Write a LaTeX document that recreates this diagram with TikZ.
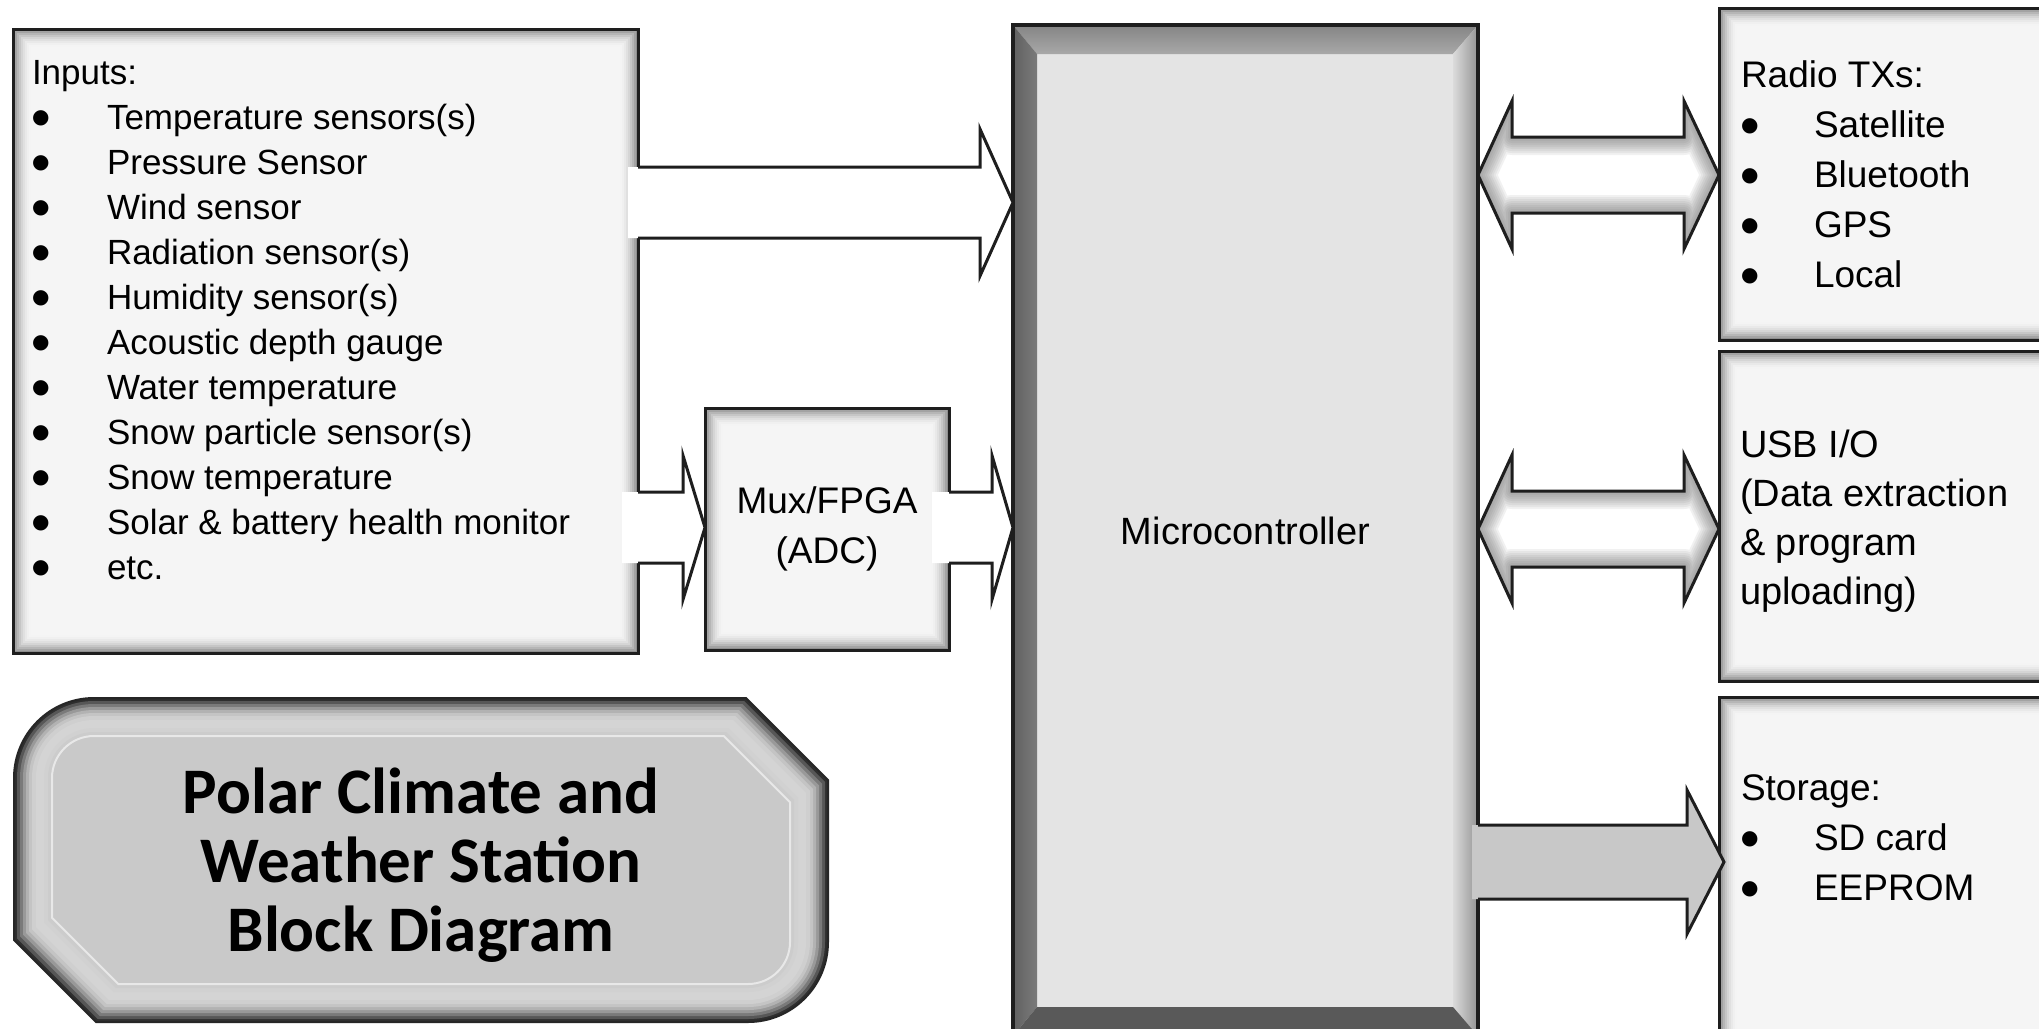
\documentclass[tikz,border=0pt]{standalone}
\usepackage{fontspec}
\setmainfont{Liberation Sans}
\newfontfamily\titlefont{Carlito}
\newfontfamily\symfont{DejaVu Sans}
\usetikzlibrary{calc}
\definecolor{boxfill}{HTML}{F5F5F5}
\definecolor{microface}{HTML}{E4E4E4}
\definecolor{edge}{HTML}{1E1E1E}
\definecolor{storefill}{HTML}{C8C8C8}
\newcommand\bul{\raisebox{5.5pt}{\symfont\fontsize{20}{20}\selectfont ●}}
% arrow outlines (use \x1,\y1,\x2 from a let operation)
\newcommand\SglArr[3]{(\x1,\y1+#3) -- (\x2-#1,\y1+#3) -- (\x2-#1,\y1+#2) -- (\x2,\y1) -- (\x2-#1,\y1-#2) -- (\x2-#1,\y1-#3) -- (\x1,\y1-#3)}
\newcommand\DblArr{(\x1,\y1) -- (\x1+34,\y1+74) -- (\x1+34,\y1+38) -- (\x2-35,\y1+38) -- (\x2-35,\y1+74) -- (\x2,\y1) -- (\x2-35,\y1-74) -- (\x2-35,\y1-38) -- (\x1+34,\y1-38) -- (\x1+34,\y1-74) -- cycle}
\newcommand\GlowDbl[2]{%
  \begin{scope}
    \clip let \p1=(#1), \p2=(#2) in \DblArr;
    \fill[white] let \p1=(#1), \p2=(#2) in \DblArr;
    \foreach \w in {36,32,...,4}
      \draw[line width=\w pt, black!60, opacity=0.085, line join=round] let \p1=(#1), \p2=(#2) in \DblArr;
  \end{scope}
  \draw[arrline] let \p1=(#1), \p2=(#2) in \DblArr;}
% title shape
\newcommand\TitleShape[1]{%
  \pgfmathsetmacro\tL{14+#1}\pgfmathsetmacro\tT{698+#1}%
  \pgfmathsetmacro\tR{828-#1}\pgfmathsetmacro\tB{1022-#1}%
  \pgfmathsetmacro\tr{80-#1}\pgfmathsetmacro\tc{82-0.414*#1}}
\newcommand\TitlePath{(\tL,\tB-\tc) -- (\tL,\tT+\tr) arc[start angle=180,end angle=270,radius=\tr] -- (\tR-\tc,\tT) -- (\tR,\tT+\tc) -- (\tR,\tB-\tr) arc[start angle=0,end angle=90,radius=\tr] -- (\tL+\tc,\tB) -- cycle}
\tikzset{
  inshadow/.style={path picture={
    \foreach \k [evaluate=\k as \op using {0.42*(1-\k/9)^2}] in {0,1,...,8}{
      \draw[line width=2pt, black, opacity=\op]
        ([shift={(\k*2+1,\k*2+1)}]path picture bounding box.north west)
        rectangle ([shift={(-\k*2-1,-\k*2-1)}]path picture bounding box.south east);
    }}},
  box/.style={draw=edge, line width=3pt, fill=boxfill, outer sep=0pt, inner sep=0pt, inshadow},
  txt/.style={inner sep=0pt, outer sep=0pt, anchor=north west},
  arrline/.style={draw=edge, line width=3pt, line join=miter},
}
\begin{document}
\begin{tikzpicture}[x=1pt,y=-1pt]
\useasboundingbox (0,0) rectangle (2039,1028);
\fill[white] (0,0) rectangle (2039,1028);

% ---------- title shape ----------
\foreach \d/\c in {0/82,3/66,6/52,9/40,12/30,15/23,18/19,22/17,26/17,30/18,34/20}{%
  \TitleShape{\d}\fill[black!\c] \TitlePath;}
\TitleShape{38}\fill[black!21] \TitlePath;
\draw[black!9, line width=2pt] \TitlePath;
\TitleShape{0}\draw[black!85, line width=2pt] \TitlePath;
\node[font=\titlefont\bfseries\fontsize{65}{69}\selectfont, align=center] (title) at (421,865) {Polar Climate and\\Weather Station\\Block Diagram};

% ---------- boxes ----------
\node[box, minimum width=625pt, minimum height=624pt] (inputs) at (325.5,341) {};
\node[box, minimum width=244pt, minimum height=242pt, align=center, font=\fontsize{37}{50}\selectfont] (mux) at (827,529) {Mux/FPGA\\(ADC)};
\node[box, minimum width=351pt, minimum height=332pt] (radio) at (1894.5,174) {};
\node[box, minimum width=351pt, minimum height=330pt] (usb) at (1894.5,516) {};
\node[box, minimum width=351pt, minimum height=353pt] (storage) at (1894.5,873.5) {};

% microcontroller with bevel
\node[fill=microface, outer sep=0pt, inner sep=0pt, minimum width=465pt, minimum height=1011pt, font=\fontsize{38}{46}\selectfont] (micro) at (1245.5,530.5) {Microcontroller};
\shade[top color=black!48, bottom color=black!34] (micro.north west) -- (micro.north east) -- ($(micro.north east)+(-25,29)$) -- ($(micro.north west)+(24,29)$) -- cycle;
\shade[left color=black!62, right color=black!52] (micro.north west) -- ($(micro.north west)+(24,29)$) -- ($(micro.south west)+(24,-29)$) -- (micro.south west) -- cycle;
\shade[left color=black!14, right color=black!42] (micro.north east) -- ($(micro.north east)+(-25,29)$) -- ($(micro.south east)+(-25,-29)$) -- (micro.south east) -- cycle;
\fill[black!65] (micro.south west) -- ($(micro.south west)+(24,-29)$) -- ($(micro.south east)+(-25,-29)$) -- (micro.south east) -- cycle;
\draw[edge, line width=3.2pt] (micro.north west) rectangle (micro.south east);

% ---------- texts ----------
\node[txt, font=\fontsize{35}{45}\selectfont] (inputstext) at (32,52.5) {\begin{tabular}{@{}p{75pt}@{}l@{}}
\multicolumn{2}{@{}l@{}}{Inputs:}\\
\bul & Temperature sensors(s)\\
\bul & Pressure Sensor\\
\bul & Wind sensor\\
\bul & Radiation sensor(s)\\
\bul & Humidity sensor(s)\\
\bul & Acoustic depth gauge\\
\bul & Water temperature\\
\bul & Snow particle sensor(s)\\
\bul & Snow temperature\\
\bul & Solar \& battery health monitor\\
\bul & etc.
\end{tabular}};
\node[txt, font=\fontsize{37}{50}\selectfont] (radiotext) at (1741,52) {\begin{tabular}{@{}p{73pt}@{}l@{}}
\multicolumn{2}{@{}l@{}}{Radio TXs:}\\
\bul & Satellite\\
\bul & Bluetooth\\
\bul & GPS\\
\bul & Local
\end{tabular}};
\node[txt, font=\fontsize{38}{49}\selectfont] (usbtext) at (1740,423) {\begin{tabular}{@{}l@{}}
USB I/O\\
(Data extraction\\
\& program\\
uploading)
\end{tabular}};
\node[txt, font=\fontsize{37}{50}\selectfont] (storagetext) at (1741,765) {\begin{tabular}{@{}p{73pt}@{}l@{}}
\multicolumn{2}{@{}l@{}}{Storage:}\\
\bul & SD card\\
\bul & EEPROM
\end{tabular}};

% ---------- arrows ----------
% inputs -> microcontroller
\coordinate (a1s) at (628,202.5);
\coordinate (a1e) at (inputs.east |- a1s);
\coordinate (a1t) at (micro.west |- a1s);
\fill[white] let \p1=(a1s), \p2=(a1t) in \SglArr{33}{73.5}{35.5} -- cycle;
\draw[arrline] let \p1=(a1e), \p2=(a1t) in \SglArr{33}{73.5}{35.5};
% inputs -> mux
\coordinate (a2s) at (622,527.5);
\coordinate (a2e) at (inputs.east |- a2s);
\coordinate (a2t) at (mux.west |- a2s);
\fill[white] let \p1=(a2s), \p2=(a2t) in \SglArr{22}{72}{35.5} -- cycle;
\draw[arrline] let \p1=(a2e), \p2=(a2t) in \SglArr{22}{72}{35.5};
% mux -> microcontroller
\coordinate (a3s) at (932,527.5);
\coordinate (a3e) at (mux.east |- a3s);
\coordinate (a3t) at (micro.west |- a3s);
\fill[white] let \p1=(a3s), \p2=(a3t) in \SglArr{21}{72}{35.5} -- cycle;
\draw[arrline] let \p1=(a3e), \p2=(a3t) in \SglArr{21}{72}{35.5};
% microcontroller -> storage
\coordinate (a4s) at (1472,862);
\coordinate (a4e) at (micro.east |- a4s);
\coordinate (a4t) at ($(storage.west |- a4s)+(5,0)$);
\fill[storefill] let \p1=(a4s), \p2=(a4t) in \SglArr{37}{72}{37} -- cycle;
\draw[arrline] let \p1=(a4e), \p2=(a4t) in \SglArr{37}{72}{37};
% microcontroller <-> radio
\coordinate (rc) at (0,175);
\coordinate (d1a) at (micro.east |- rc);
\coordinate (d1b) at (radio.west |- rc);
\GlowDbl{d1a}{d1b}
% microcontroller <-> usb
\coordinate (uc) at (0,529);
\coordinate (d2a) at (micro.east |- uc);
\coordinate (d2b) at (usb.west |- uc);
\GlowDbl{d2a}{d2b}
\end{tikzpicture}
\end{document}
